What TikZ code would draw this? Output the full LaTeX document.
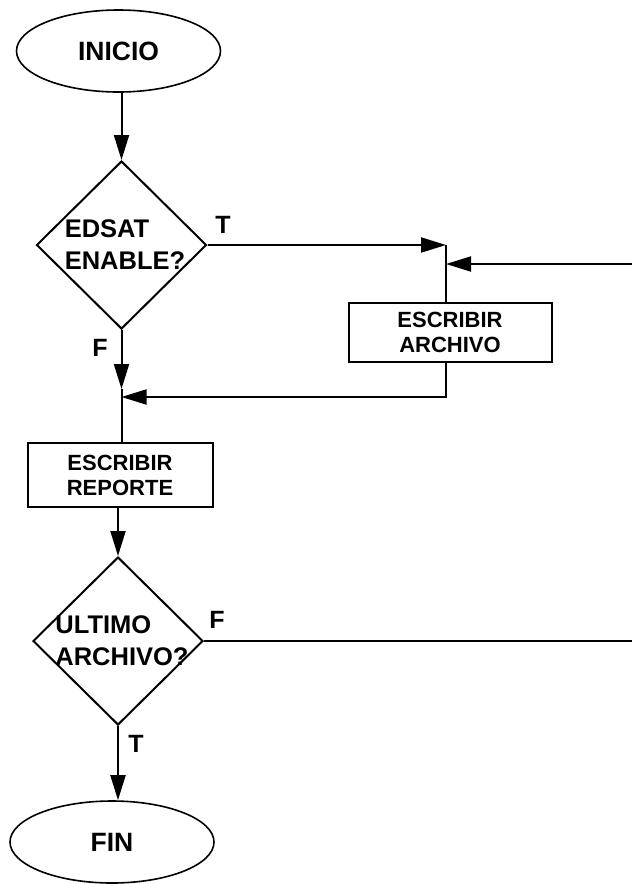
\documentclass[tikz,border=0pt]{standalone}
\usepackage{fontspec}
\setmainfont{Liberation Sans}
\usetikzlibrary{shapes.geometric,arrows.meta}
\tikzset{
  every picture/.style={x=1pt,y=-1pt},
  ln/.style={line width=2pt},
  arr/.style={ln,-{Triangle[length=25pt,width=15pt]}},
  term/.style={ellipse,draw,line width=1.6pt,inner sep=0pt,minimum width=204pt,minimum height=82pt,font=\bfseries\fontsize{26.5}{30}\selectfont},
  dia/.style={diamond,draw,line width=2pt,inner sep=0pt,minimum width=170pt,minimum height=168pt},
  dtext/.style={align=left,inner sep=0pt,font=\bfseries\fontsize{25.5}{32}\selectfont},
  proc/.style={rectangle,draw,line width=2pt,inner sep=0pt,align=center,font=\bfseries\fontsize{22}{25}\selectfont},
  lab/.style={inner sep=0pt,font=\bfseries\fontsize{25}{28}\selectfont}
}
\begin{document}
\begin{tikzpicture}
\useasboundingbox[fill=white] (0,0) rectangle (632,884);
% nodes
\node[term] (ini) at (118.5,51) {INICIO};
\node[dia] (d1) at (121.5,245) {};
\node[dtext] (d1t) at (125,245) {EDSAT\\ENABLE?};
\node[proc,minimum width=203pt,minimum height=59pt] (b1) at (450,332) {ESCRIBIR\\ARCHIVO};
\node[proc,minimum width=185pt,minimum height=64pt] (b2) at (120,475) {ESCRIBIR\\REPORTE};
\node[dia] (d2) at (118,641) {};
\node[dtext] (d2t) at (122,641) {ULTIMO\\ARCHIVO?};
\node[term] (fin) at (112,842) {FIN};
% labels
\node[lab] (lt1) at (223,225) {T};
\node[lab] (lf1) at (100,348) {F};
\node[lab] (lf2) at (217,620) {F};
\node[lab] (lt2) at (136,744) {T};
% junction coordinates
\coordinate (j1) at (446,245);
\coordinate (j2) at (446,264);
\coordinate (r1) at (632,264);
\coordinate (j3) at (446,397);
\coordinate (j4) at (121.5,397);
\coordinate (j5) at (121.5,389);
\coordinate (r2) at (632,641);
% connectors
\draw[arr] (ini.south -| d1.north) -- (d1.north);
\draw[arr] (d1.east) -- (d1.east -| j1);
\draw[ln] (j1) -- (j1 |- b1.north);
\draw[arr] (r1) -- (j2);
\draw[ln] (j3 |- b1.south) -- (j3) -- (j4 -| 150,0);
\draw[arr] (j3) -- (j4);
\draw[arr] (d1.south) -- (d1.south |- j5);
\draw[ln] (j5) -- (j5 |- b2.north);
\draw[arr] (b2.south -| d2.north) -- (d2.north);
\draw[ln] (d2.east) -- (r2);
\draw[arr] (d2.south) -- (d2.south |- fin.north);
\end{tikzpicture}
\end{document}
